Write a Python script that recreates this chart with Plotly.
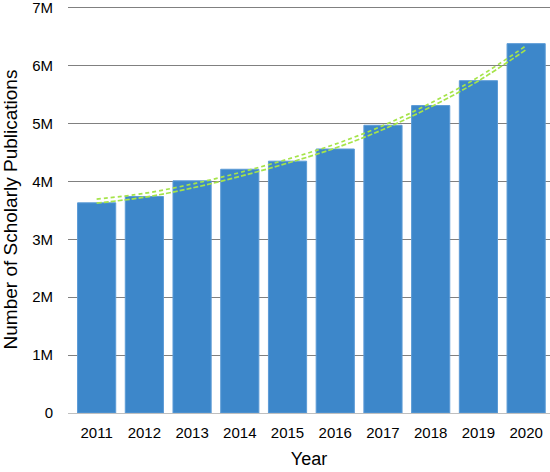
import plotly.graph_objects as go

years = ["2011", "2012", "2013", "2014", "2015", "2016", "2017", "2018", "2019", "2020"]
publications = [3.63e6, 3.74e6, 4.01e6, 4.21e6, 4.35e6, 4.56e6, 4.97e6, 5.31e6, 5.74e6, 6.38e6]
trend = [3.66e6, 3.76e6, 3.92e6, 4.12e6, 4.35e6, 4.61e6, 4.93e6, 5.32e6, 5.77e6, 6.31e6]
y_ticks = [0, 1e6, 2e6, 3e6, 4e6, 5e6, 6e6, 7e6]
y_tick_labels = ["0", "1M", "2M", "3M", "4M", "5M", "6M", "7M"]

fig = go.Figure()
fig.add_trace(go.Bar(
    x=years, y=publications,
    marker=dict(color="#3D87CA", line=dict(color="#5C9BD6", width=1)),
    showlegend=False, hoverinfo="x+y",
))
off = 0.034e6
for sign, dash in ((-1, "5px,2px"), (1, "4px,3px")):
    fig.add_trace(go.Scatter(
        x=years, y=[v + sign * off for v in trend],
        mode="lines", line=dict(color="#A6E44A", width=1.7, dash=dash, shape="spline"),
        showlegend=False, hoverinfo="skip",
    ))

fig.update_layout(
    width=550, height=472,
    margin=dict(l=68, r=0, t=6, b=59, autoexpand=False),
    paper_bgcolor="white", plot_bgcolor="white",
    font=dict(family="Liberation Sans, Arial, sans-serif", color="black", size=15),
    bargap=0.2,
    xaxis=dict(
        range=[-0.6, 9.5],
        showline=True, linecolor="#BFBFBF", linewidth=1,
        showgrid=False, ticks="", ticklabelstandoff=6,
        title=dict(text="Year", font=dict(size=18), standoff=12),
        tickfont=dict(size=15),
    ),
    yaxis=dict(
        range=[0, 7.03e6], tickvals=y_ticks, ticktext=y_tick_labels,
        showgrid=True, gridcolor="#808080", gridwidth=1,
        zeroline=False, showline=False, ticks="", ticklabelstandoff=14,
        ticklabeloverflow="allow",
        title=dict(text="Number of Scholarly Publications", font=dict(size=19), standoff=18),
        tickfont=dict(size=15),
    ),
)

fig.write_html("out.html", config={"displayModeBar": False},
               post_script="document.body.style.margin='0';document.body.style.padding='0';")
